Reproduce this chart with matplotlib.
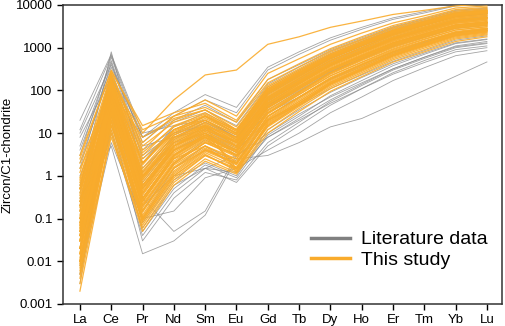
import matplotlib
matplotlib.use("Agg")
import matplotlib.pyplot as plt
from matplotlib.lines import Line2D

plt.rcParams['font.family'] = ['Liberation Sans', 'DejaVu Sans']

elements = ['La', 'Ce', 'Pr', 'Nd', 'Sm', 'Eu', 'Gd', 'Tb', 'Dy', 'Ho', 'Er', 'Tm', 'Yb', 'Lu']

# literature data (chondrite-normalised)
literature = [
    [20, 700, 10, 15, 20, 8, 60, 150, 400, 800, 1600, 2600, 4200, 5000],
    [5, 500, 4, 12, 25, 10, 90, 230, 580, 1150, 2200, 3500, 5600, 6500],
    [0.5, 800, 1.5, 8, 18, 7, 70, 190, 500, 1000, 2000, 3300, 5300, 6200],
    [0.3, 5, 0.015, 0.03, 0.12, 2.5, 3, 6, 14, 22, 47, 100, 215, 464],
    [1, 60, 0.3, 0.05, 0.15, 3, 8, 20, 50, 110, 240, 450, 800, 1000],
    [0.05, 40, 0.2, 1, 1.5, 3, 10, 28, 70, 150, 320, 600, 1050, 1300],
    [0.02, 25, 0.08, 0.8, 2, 1, 12, 35, 90, 200, 420, 750, 1300, 1600],
    [10, 400, 8, 20, 45, 18, 180, 400, 900, 1700, 3100, 4800, 7500, 8500],
    [3, 600, 6, 25, 60, 30, 300, 700, 1500, 2700, 4600, 6500, 9500, 10500],
    [0.005, 50, 0.1, 1.5, 5, 2, 25, 70, 190, 400, 800, 1350, 2200, 2700],
    [0.1, 150, 0.6, 5, 12, 5, 50, 140, 380, 780, 1550, 2500, 4000, 4700],
    [0.003, 80, 0.3, 3, 8, 3.5, 40, 110, 300, 620, 1250, 2050, 3300, 3900],
    [2, 300, 3, 10, 15, 5, 30, 70, 180, 360, 750, 1300, 2200, 2700],
    [0.2, 100, 1, 6, 10, 4, 20, 45, 110, 230, 480, 850, 1500, 1900],
    [0.01, 35, 0.05, 0.5, 1.8, 0.9, 9, 25, 75, 170, 380, 700, 1250, 1550],
    [8, 200, 5, 8, 12, 6, 40, 100, 270, 560, 1150, 1900, 3100, 3700],
    [0.04, 70, 0.5, 4, 10, 4.5, 55, 150, 400, 820, 1650, 2700, 4300, 5000],
    [0.6, 250, 2, 14, 30, 12, 120, 300, 730, 1420, 2700, 4200, 6600, 7600],
    [0.008, 20, 0.03, 0.3, 1.2, 0.8, 6, 18, 55, 130, 300, 560, 1000, 1250],
    [0.15, 120, 0.7, 6, 14, 6, 65, 175, 460, 920, 1800, 2900, 4600, 5400],
    [4, 350, 8, 30, 80, 40, 350, 800, 1700, 3000, 5000, 7000, 9800, 10500],
    [0.02, 12, 0.06, 0.6, 1.5, 0.7, 5, 15, 45, 110, 260, 500, 900, 1100],
    [0.08, 90, 0.9, 7, 18, 8, 80, 210, 540, 1080, 2100, 3400, 5400, 6300],
    [1.5, 450, 2.5, 10, 20, 9, 85, 220, 560, 1100, 2100, 3400, 5400, 6300],
    [0.03, 10, 0.04, 0.4, 1.5, 1.2, 8, 22, 60, 140, 320, 600, 1100, 1400],
    [0.4, 180, 1.2, 9, 20, 8, 45, 110, 280, 560, 1100, 1800, 2900, 3400],
    [0.01, 15, 0.15, 2, 7, 3, 35, 95, 260, 530, 1050, 1750, 2850, 3350],
    [12, 650, 8, 18, 35, 15, 140, 350, 820, 1550, 2900, 4500, 7100, 8100],
    [0.005, 6, 0.1, 0.15, 0.9, 1.5, 4, 10, 30, 70, 170, 340, 650, 850],
    [0.25, 220, 0.5, 4, 9, 4, 44, 120, 320, 650, 1300, 2100, 3400, 4000],
]

# this study
this_study = [
    [0.02, 60, 0.3, 3, 8, 4, 40, 110, 300, 600, 1200, 2000, 3200, 3800],
    [0.05, 90, 0.5, 5, 12, 6, 60, 160, 420, 850, 1700, 2800, 4500, 5200],
    [0.01, 30, 0.15, 1.8, 5, 2.5, 25, 70, 190, 400, 800, 1400, 2300, 2800],
    [0.1, 120, 0.8, 7, 15, 7, 70, 190, 500, 1000, 2000, 3300, 5200, 6000],
    [0.3, 150, 1.2, 9, 18, 8, 80, 210, 550, 1100, 2100, 3400, 5500, 6500],
    [0.005, 20, 0.1, 1.2, 4, 2, 20, 55, 160, 340, 700, 1200, 2000, 2500],
    [0.03, 45, 0.25, 2.5, 7, 3, 35, 95, 260, 540, 1100, 1850, 3000, 3500],
    [0.5, 200, 2, 12, 25, 10, 100, 250, 620, 1200, 2300, 3600, 5800, 6800],
    [0.08, 70, 0.6, 5, 11, 5, 50, 130, 350, 700, 1400, 2300, 3700, 4300],
    [0.015, 35, 0.12, 1.5, 4.5, 1.8, 22, 65, 180, 380, 780, 1300, 2200, 2700],
    [1.2, 250, 4, 20, 35, 14, 130, 320, 780, 1500, 2800, 4300, 6800, 7800],
    [0.2, 100, 1, 8, 17, 6, 65, 170, 440, 880, 1700, 2800, 4400, 5100],
    [0.04, 55, 0.35, 3.5, 9, 4.5, 45, 120, 320, 650, 1300, 2100, 3400, 4000],
    [0.007, 15, 0.08, 0.9, 3, 1.5, 15, 45, 130, 280, 600, 1050, 1800, 2200],
    [0.6, 180, 3, 15, 28, 11, 110, 280, 680, 1300, 2500, 3900, 6200, 7200],
    [0.06, 80, 0.45, 4, 10, 5, 55, 150, 400, 800, 1600, 2600, 4100, 4800],
    [0.02, 40, 0.2, 2, 6, 3, 30, 85, 240, 500, 1000, 1700, 2800, 3300],
    [2.5, 300, 12, 25, 40, 18, 150, 360, 850, 1600, 3000, 4600, 7200, 8200],
    [0.12, 110, 0.9, 6, 14, 6, 60, 165, 430, 860, 1650, 2700, 4300, 5000],
    [0.003, 12, 0.06, 0.7, 2.5, 1.2, 12, 38, 110, 240, 520, 900, 1600, 2000],
    [0.04, 65, 0.4, 3.8, 9, 3.5, 42, 115, 310, 630, 1250, 2050, 3300, 3900],
    [0.25, 140, 1.5, 10, 20, 9, 85, 220, 560, 1100, 2100, 3400, 5400, 6300],
    [0.009, 25, 0.14, 1.6, 5, 2.2, 24, 68, 190, 400, 820, 1400, 2300, 2800],
    [0.07, 85, 0.55, 4.5, 12, 5.5, 58, 155, 410, 820, 1600, 2600, 4200, 4900],
    [0.4, 160, 2, 11, 22, 10, 95, 240, 600, 1200, 2300, 3700, 5900, 6800],
    [0.015, 38, 0.18, 1.9, 6, 2.8, 28, 80, 220, 460, 940, 1600, 2600, 3100],
    [0.9, 220, 5, 18, 30, 12, 120, 300, 720, 1400, 2600, 4100, 6500, 7500],
    [0.05, 75, 0.5, 4.2, 11, 4.8, 52, 140, 370, 750, 1500, 2450, 3900, 4600],
    [0.002, 10, 0.05, 0.6, 2.2, 1.1, 10, 32, 95, 210, 460, 800, 1400, 1800],
    [0.18, 130, 1.1, 7.5, 16, 7.5, 75, 200, 510, 1000, 1950, 3100, 5000, 5800],
    [0.03, 50, 0.28, 2.8, 8, 3.8, 38, 105, 285, 580, 1150, 1900, 3100, 3700],
    [0.8, 190, 3.5, 14, 26, 11, 105, 265, 650, 1250, 2400, 3800, 6000, 7000],
    [0.01, 28, 0.11, 1.3, 4.2, 2, 21, 60, 170, 360, 740, 1250, 2100, 2600],
    [0.15, 115, 0.95, 6.5, 15, 6.5, 68, 180, 470, 940, 1800, 2950, 4700, 5500],
    [0.06, 60, 0.38, 3.2, 8.5, 4.2, 46, 125, 330, 670, 1330, 2200, 3500, 4100],
    [3, 280, 15, 30, 50, 20, 180, 420, 950, 1800, 3300, 5000, 7800, 8800],
    [0.02, 45, 0.22, 2.2, 6.5, 3.2, 33, 90, 250, 520, 1050, 1750, 2900, 3400],
    [0.35, 170, 1.8, 12, 24, 9.5, 92, 235, 590, 1150, 2200, 3550, 5700, 6600],
    [0.004, 18, 0.09, 1, 3.5, 1.6, 17, 50, 145, 310, 650, 1120, 1900, 2350],
    [0.1, 95, 0.7, 5.5, 13, 6, 62, 165, 430, 870, 1700, 2750, 4400, 5100],
    [0.08, 70, 2, 10, 25, 12, 100, 260, 640, 1250, 2400, 3800, 6000, 7000],
    [0.5, 40, 0.6, 4, 8, 2, 20, 50, 140, 300, 650, 1150, 2000, 2500],
    [0.03, 150, 0.2, 2, 6, 4, 40, 110, 300, 620, 1250, 2050, 3300, 3900],
    [0.015, 200, 0.4, 5, 15, 8, 90, 250, 650, 1300, 2500, 4000, 6300, 7300],
    [1.5, 60, 1, 5, 10, 3, 30, 80, 220, 450, 900, 1550, 2600, 3100],
    [0.006, 8, 0.07, 0.8, 3, 1.4, 14, 42, 120, 260, 560, 980, 1700, 2100],
    [0.2, 250, 6, 25, 60, 25, 250, 550, 1200, 2200, 3800, 5600, 8500, 9500],
    [0.04, 100, 0.3, 3, 9, 5, 50, 140, 380, 780, 1550, 2550, 4100, 4800],
    [0.1, 35, 0.3, 2.5, 5, 1.5, 15, 45, 140, 300, 650, 1150, 2000, 2500],
    [0.02, 55, 0.16, 1.5, 4, 2.5, 30, 90, 260, 550, 1100, 1850, 3000, 3600],
    [0.7, 120, 2.5, 12, 20, 7, 60, 150, 380, 750, 1450, 2350, 3800, 4400],
    [0.012, 30, 0.1, 1.1, 3.8, 1.9, 19, 55, 155, 330, 690, 1180, 2000, 2450],
    [0.25, 80, 1.3, 9, 20, 9, 85, 220, 560, 1120, 2150, 3450, 5500, 6400],
    [0.05, 130, 0.6, 5, 13, 6.5, 70, 190, 490, 980, 1900, 3050, 4900, 5700],
    [0.008, 22, 0.09, 1, 3.2, 1.3, 16, 48, 140, 300, 640, 1100, 1900, 2300],
    [0.15, 60, 0.8, 6, 14, 5, 48, 125, 320, 640, 1250, 2050, 3300, 3900],
    [2, 100, 8, 22, 35, 12, 110, 280, 690, 1350, 2550, 4000, 6400, 7400],
    [0.03, 70, 0.25, 2.6, 7.5, 3.6, 40, 110, 300, 610, 1220, 2000, 3250, 3850],
    [0.07, 40, 0.9, 8, 15, 1.2, 18, 50, 150, 320, 700, 1250, 2200, 2800],
    [0.01, 15, 0.25, 3, 10, 1.5, 25, 70, 200, 420, 860, 1450, 2400, 2900],
    [0.5, 150, 10, 60, 230, 300, 1200, 1800, 3000, 4200, 6000, 7500, 9500, 10500],
]

gray = '#8c8c8c'
orange = '#f9ab2c'

fig = plt.figure(figsize=(5.05, 3.26), dpi=100)
ax = fig.add_axes([0.1248, 0.0675, 0.8692, 0.9172])

x = list(range(len(elements)))
for row in literature:
    ax.plot(x, row, color=gray, lw=0.6, alpha=0.8, zorder=2)
for row in this_study:
    ax.plot(x, row, color=orange, lw=0.9, alpha=0.9, zorder=3)

ax.set_yscale('log')
ax.set_ylim(0.001, 10000)
ax.set_xlim(-0.54, 13.48)
ax.set_xticks(x)
ax.set_xticklabels(elements)
ax.set_yticks([0.001, 0.01, 0.1, 1, 10, 100, 1000, 10000])
ax.set_yticklabels(['0.001', '0.01', '0.1', '1', '10', '100', '1000', '10000'])
ax.minorticks_off()
ax.tick_params(labelsize=9.5, length=4, width=1, direction='out', top=False, right=False)
for s in ax.spines.values():
    s.set_linewidth(1.1)
    s.set_color('#333333')
ax.set_ylabel('Zircon/C1-chondrite', fontsize=9.5)
ax.yaxis.set_label_coords(-0.112, 0.5)

handles = [Line2D([], [], color='#808080', lw=2.5),
           Line2D([], [], color=orange, lw=2.5)]
ax.legend(handles, ['Literature data', 'This study'], loc='upper left',
          bbox_to_anchor=(0.565, 0.245), frameon=False, fontsize=14,
          handlelength=2.0, handletextpad=0.55, labelspacing=0.15,
          borderpad=0, borderaxespad=0)

fig.savefig('out.png', dpi=100)
